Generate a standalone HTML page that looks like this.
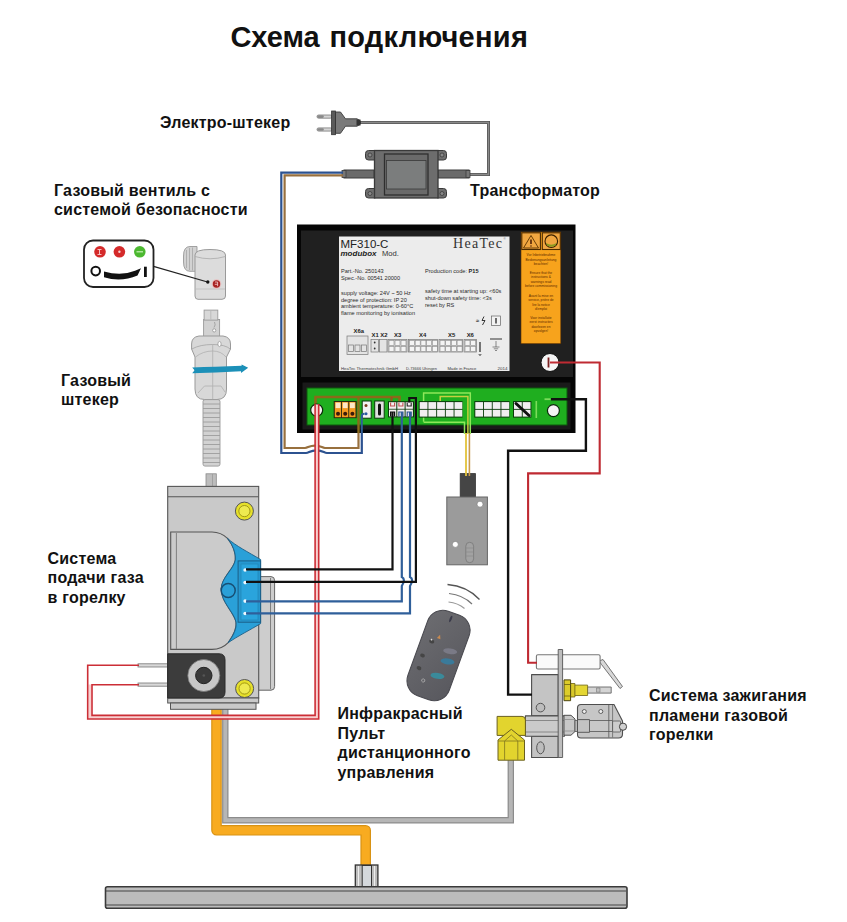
<!DOCTYPE html>
<html><head><meta charset="utf-8"><title>Схема подключения</title>
<style>
html,body{margin:0;padding:0;background:#fff;}
body{width:847px;height:922px;overflow:hidden;position:relative;font-family:"Liberation Sans",sans-serif;}
svg{position:absolute;left:0;top:0;display:block;}
.lbl{font-family:"Liberation Sans",sans-serif;font-weight:bold;font-size:16px;fill:#111;letter-spacing:0.22px;}
.sm{font-family:"Liberation Sans",sans-serif;fill:#333;}
</style></head>
<body>
<svg width="847" height="922" viewBox="0 0 847 922">
<rect x="0" y="0" width="847" height="922" fill="#fff"/>

<!-- ===== TEXT LABELS ===== -->
<text x="230.4" y="47" class="lbl" style="font-size:29px;letter-spacing:0px">Схема</text>
<text x="329.4" y="47" class="lbl" style="font-size:29px;letter-spacing:0.3px">подключения</text>
<text x="160" y="127.5" class="lbl">Электро-штекер</text>
<text x="470" y="196" class="lbl">Трансформатор</text>
<text x="54" y="196" class="lbl">Газовый вентиль с</text>
<text x="54" y="215" class="lbl">системой безопасности</text>
<text x="61" y="385.5" class="lbl">Газовый</text>
<text x="61" y="404.8" class="lbl">штекер</text>
<text x="47.5" y="563.5" class="lbl">Система</text>
<text x="47.5" y="583.2" class="lbl">подачи газа</text>
<text x="47.5" y="602.5" class="lbl">в горелку</text>
<text x="337.5" y="718.8" class="lbl">Инфракрасный</text>
<text x="337.5" y="738.6" class="lbl">Пульт</text>
<text x="337.5" y="758.4" class="lbl">дистанционного</text>
<text x="337.5" y="777.6" class="lbl">управления</text>
<text x="649" y="701" class="lbl">Система зажигания</text>
<text x="649" y="720.6" class="lbl">пламени газовой</text>
<text x="649" y="740" class="lbl">горелки</text>

<!-- ===== PIPES & BURNER ===== -->
<g id="pipes">
  <!-- gray pipe -->
  <path d="M225.3 705 V820.3 H510.8 V760" fill="none" stroke="#8c8c8c" stroke-width="6.4"/>
  <path d="M225.3 705 V820.3 H510.8 V760" fill="none" stroke="#b6b6b6" stroke-width="4"/>
  <!-- orange pipe -->
  <path d="M216.5 705 V830.3 H365.7 V866" fill="none" stroke="#d89214" stroke-width="10.6" stroke-linejoin="round"/>
  <path d="M216.5 705 V830.3 H365.7 V866" fill="none" stroke="#f8ab20" stroke-width="8.2" stroke-linejoin="round"/>
  <!-- coupling -->
  <rect x="355.3" y="865" width="22.6" height="22" fill="#bdbdbd" stroke="#333" stroke-width="1.3"/>
  <rect x="362.2" y="865.5" width="9.3" height="21" fill="#d4d8dc" stroke="#333" stroke-width="1"/>
  <line x1="358.5" y1="866" x2="358.5" y2="886.5" stroke="#eee" stroke-width="1"/>
  <line x1="374.5" y1="866" x2="374.5" y2="886.5" stroke="#eee" stroke-width="1"/>
  <!-- burner -->
  <rect x="105.5" y="886.8" width="521.5" height="21.5" rx="2" fill="#bcbcbc" stroke="#3a3a3a" stroke-width="1.6"/>
  <line x1="106" y1="891" x2="626" y2="891" stroke="#444" stroke-width="1.2"/>
  <line x1="106" y1="905" x2="626" y2="905" stroke="#444" stroke-width="1.2"/>
</g>

<!-- ===== PLUG & TRANSFORMER ===== -->
<g id="plug">
  <!-- cord from plug to transformer -->
  <path d="M358 122.5 H488.5 V174.5 H468" fill="none" stroke="#555" stroke-width="3"/>
  <path d="M358 122.5 H488.5 V174.5 H468" fill="none" stroke="#8a8a8a" stroke-width="1.4"/>
  <!-- pins -->
  <rect x="317" y="115" width="15" height="3.2" rx="1.6" fill="#d4d4d4" stroke="#7a7a7a" stroke-width="0.8"/>
  <rect x="317" y="127.9" width="15" height="3.2" rx="1.6" fill="#d4d4d4" stroke="#7a7a7a" stroke-width="0.8"/>
  <rect x="317.3" y="115.3" width="6.5" height="2.6" rx="1.3" fill="#8a8a8a"/>
  <rect x="317.3" y="128.2" width="6.5" height="2.6" rx="1.3" fill="#8a8a8a"/>
  <!-- body -->
  <path d="M335.5 112 H340.5 L345.5 118.8 H357 L360.5 121 V124 L357 126.2 H345.5 L340.5 133.3 H335.5 Z" fill="#7a7a7a" stroke="#3a3a3a" stroke-width="0.9"/>
  <rect x="331.6" y="111" width="3.9" height="23.7" fill="#5a5a5a" stroke="#333" stroke-width="0.8"/>
  <rect x="356.5" y="119.5" width="4" height="6" fill="#333"/>
</g>
<g id="transformer">
  <!-- left cord sleeve -->
  <rect x="344" y="170" width="30" height="8" fill="#6a6a6a" stroke="#3c3c3c" stroke-width="1"/>
  <rect x="342" y="170.5" width="4" height="7" fill="#777" stroke="#3c3c3c" stroke-width="0.8"/>
  <!-- right cord sleeve -->
  <rect x="438" y="170" width="31" height="8" fill="#6a6a6a" stroke="#3c3c3c" stroke-width="1"/>
  <rect x="466" y="170.5" width="4" height="7" fill="#777" stroke="#3c3c3c" stroke-width="0.8"/>
  <!-- tabs -->
  <rect x="365.5" y="150.5" width="12" height="9.5" rx="3" fill="#6e6e6e" stroke="#3a3a3a" stroke-width="1"/>
  <rect x="365.5" y="188.5" width="12" height="9.5" rx="3" fill="#6e6e6e" stroke="#3a3a3a" stroke-width="1"/>
  <rect x="435" y="150.5" width="11.5" height="9.5" rx="3" fill="#6e6e6e" stroke="#3a3a3a" stroke-width="1"/>
  <rect x="435" y="188.5" width="11.5" height="9.5" rx="3" fill="#6e6e6e" stroke="#3a3a3a" stroke-width="1"/>
  <circle cx="370" cy="155" r="2" fill="#888" stroke="#333" stroke-width="0.7"/>
  <circle cx="370" cy="193.5" r="2" fill="#888" stroke="#333" stroke-width="0.7"/>
  <circle cx="442" cy="155" r="2" fill="#888" stroke="#333" stroke-width="0.7"/>
  <circle cx="442" cy="193.5" r="2" fill="#888" stroke="#333" stroke-width="0.7"/>
  <!-- body -->
  <rect x="374.5" y="150.5" width="63.5" height="47.5" fill="#6d6d6d" stroke="#3a3a3a" stroke-width="1.3"/>
  <rect x="384.5" y="154" width="43.5" height="41" fill="#6a6a6a" stroke="#2e2e2e" stroke-width="1.3"/>
  <rect x="386.5" y="160.5" width="39.5" height="28.5" fill="#7b7d7d" stroke="#3a3a3a" stroke-width="0.8"/>
</g>

<!-- ===== CONTROL BOX ===== -->
<g id="box">
  <rect x="297" y="224.5" width="278.5" height="208.5" fill="#050505"/>
  <rect x="301" y="230.5" width="272" height="146.5" fill="#202020"/>
  <rect x="302.5" y="382.5" width="268" height="47" fill="#1a1a1a"/>
  <!-- label -->
  <rect x="339" y="236.5" width="170.5" height="134.5" fill="#ececec"/>
  <g class="sm" fill="#333">
    <text x="340.5" y="247.5" style="font-size:11.5px;fill:#222">MF310-C</text>
    <text x="340.5" y="256" style="font-size:8px;font-weight:bold;font-style:italic;fill:#222">modubox</text>
    <text x="382" y="256" style="font-size:7.6px;fill:#333">Mod.</text>
    <text x="453" y="247.5" style="font-family:'Liberation Serif',serif;font-size:14px;letter-spacing:1.3px;fill:#333">HeaTec</text>
    <text x="503.5" y="240" style="font-size:3px;fill:#555">®</text>
    <g style="font-size:5.6px;fill:#2a2a2a">
      <text x="341" y="272.5">Part.-No. 250143</text>
      <text x="341" y="279.8">Spec.-No. 00541 20000</text>
      <text x="425" y="272.5">Production code: <tspan style="font-weight:bold;fill:#222">P15</tspan></text>
      <text x="341" y="294.5">supply voltage: 24V ~ 50 Hz</text>
      <text x="341" y="301.5">degree of protection: IP 20</text>
      <text x="341" y="308.4">ambient temperature: 0-60°C</text>
      <text x="341" y="315.4">flame monitoring by ionisation</text>
      <text x="425" y="293">safety time at starting up: &lt;60s</text>
      <text x="425" y="300.3">shut-down safety time: &lt;3s</text>
      <text x="425" y="307.3">reset by RS</text>
    </g>
    <g style="font-size:5.9px;font-weight:bold;fill:#222">
      <text x="353.5" y="333.2">X6a</text>
      <text x="371.5" y="336.8">X1 X2</text>
      <text x="394" y="336.8">X3</text>
      <text x="419" y="336.8">X4</text>
      <text x="448" y="336.8">X5</text>
      <text x="466.7" y="336.8">X6</text>
    </g>
    <g style="font-size:4.4px;fill:#3a3a3a">
      <text x="341" y="369.8" textLength="57" lengthAdjust="spacingAndGlyphs">HeaTec Thermotechnik GmbH</text>
      <text x="406" y="369.8" textLength="31" lengthAdjust="spacingAndGlyphs">D-73666 Uhingen</text>
      <text x="447.4" y="369.8" textLength="29" lengthAdjust="spacingAndGlyphs">Made in France</text>
      <text x="497.6" y="369.8" textLength="10" lengthAdjust="spacingAndGlyphs">2014</text>
    </g>
    <!-- terminal sketch on label -->
    <g fill="#e4e4e4" stroke="#777" stroke-width="0.7">
      <rect x="347" y="336" width="21" height="18.5"/>
      <rect x="348.5" y="345" width="5" height="6.5"/><rect x="355" y="345" width="5" height="6.5"/><rect x="361.5" y="345" width="5" height="6.5"/>
      <rect x="371" y="339.5" width="7.5" height="12.5"/><rect x="379.5" y="339.5" width="7.5" height="12.5"/>
      <rect x="388" y="339.5" width="19" height="12.5"/>
      <rect x="408.5" y="339.5" width="29" height="12.5"/>
      <rect x="439" y="339.5" width="23.5" height="12.5"/>
      <rect x="464" y="339.5" width="12.5" height="12.5"/>
    </g>
    <g fill="#f4f4f4" stroke="#888" stroke-width="0.6">
      <rect x="389" y="340.5" width="5" height="5"/><rect x="395" y="340.5" width="5" height="5"/><rect x="401" y="340.5" width="5" height="5"/>
      <rect x="389" y="346.5" width="5" height="5"/><rect x="395" y="346.5" width="5" height="5"/><rect x="401" y="346.5" width="5" height="5"/>
      <rect x="409.5" y="340.5" width="5" height="5"/><rect x="415.2" y="340.5" width="5" height="5"/><rect x="420.9" y="340.5" width="5" height="5"/><rect x="426.6" y="340.5" width="5" height="5"/><rect x="432.3" y="340.5" width="5" height="5"/>
      <rect x="409.5" y="346.5" width="5" height="5"/><rect x="415.2" y="346.5" width="5" height="5"/><rect x="420.9" y="346.5" width="5" height="5"/><rect x="426.6" y="346.5" width="5" height="5"/><rect x="432.3" y="346.5" width="5" height="5"/>
      <rect x="440" y="340.5" width="5" height="5"/><rect x="445.7" y="340.5" width="5" height="5"/><rect x="451.4" y="340.5" width="5" height="5"/><rect x="457.1" y="340.5" width="5" height="5"/>
      <rect x="440" y="346.5" width="5" height="5"/><rect x="445.7" y="346.5" width="5" height="5"/><rect x="451.4" y="346.5" width="5" height="5"/><rect x="457.1" y="346.5" width="5" height="5"/>
      <rect x="465" y="340.5" width="5" height="5"/><rect x="470.7" y="340.5" width="5" height="5"/>
      <rect x="465" y="346.5" width="5" height="5"/><rect x="470.7" y="346.5" width="5" height="5"/>
    </g>
    <circle cx="374.7" cy="342.5" r="0.9" fill="#333"/><circle cx="374.7" cy="348.5" r="0.9" fill="#333"/>
    <line x1="480" y1="342" x2="480" y2="352" stroke="#333" stroke-width="1.3"/>
    <path d="M478.5 354.5 H481.5 M479.2 355.5 H480.8" stroke="#333" stroke-width="0.6"/>
    <line x1="490" y1="339" x2="502" y2="339" stroke="#333" stroke-width="1"/>
    <path d="M496 341 V347 M492.5 347 H499.5 M493.8 348.8 H498.2 M495 350.5 H497" stroke="#444" stroke-width="0.6" fill="none"/>
    <rect x="491.5" y="316" width="9" height="9.5" fill="#f2f2f2" stroke="#666" stroke-width="0.7"/>
    <line x1="496" y1="318" x2="496" y2="323.5" stroke="#222" stroke-width="1.3"/>
    <text x="476" y="323" style="font-size:6px;font-weight:bold;fill:#333">≈</text>
    <path d="M484 316.5 L482 320.5 H485 L482.5 325" stroke="#222" stroke-width="0.9" fill="none"/>
  </g>
  <!-- orange panel -->
  <rect x="521" y="232" width="39.8" height="111.7" fill="#f7a31c" stroke="#5a3000" stroke-width="0.6"/>
  <rect x="521.8" y="232.8" width="18.6" height="16.7" fill="#f0a640" stroke="#4a2a00" stroke-width="1.1"/>
  <rect x="542.3" y="232.8" width="18" height="16.7" fill="#f0a640" stroke="#4a2a00" stroke-width="1.1"/>
  <path d="M531 235.5 L538.5 248 H523.5 Z" fill="none" stroke="#5a3200" stroke-width="0.9"/>
  <line x1="531" y1="239.5" x2="531" y2="244" stroke="#3a1000" stroke-width="1.4"/>
  <circle cx="531" cy="246" r="0.7" fill="#3a1000"/>
  <circle cx="551.3" cy="241.2" r="6.3" fill="#f0a640" stroke="#3a2000" stroke-width="1.1"/>
  <path d="M546 243 Q551.3 246.5 556.6 243 L555.5 245.5 Q551.3 248 547 245.5 Z" fill="#8a9a20"/>
  <g style="font-family:'Liberation Sans',sans-serif;font-size:3.3px;fill:#5a2800" text-anchor="middle">
    <text x="541" y="256.3">Vor Inbetriebnahme</text><text x="541" y="260.7">Bedienungsanleitung</text><text x="541" y="265.2">beachten!</text>
    <text x="541" y="273.9">Ensure that the</text><text x="541" y="278.3">instructions &amp;</text><text x="541" y="282.8">warnings read</text><text x="541" y="287.3">before commissioning</text>
    <text x="541" y="296.6">Avant la mise en</text><text x="541" y="301">service, prière de</text><text x="541" y="305.5">lire la notice</text><text x="541" y="310">d'emploi</text>
    <text x="541" y="318.7">Voor installatie</text><text x="541" y="323.1">eerst instructies</text><text x="541" y="327.6">doorlezen en</text><text x="541" y="332">opvolgen!</text>
  </g>
  <!-- circle connector -->
  <circle cx="550" cy="362.5" r="9" fill="#f4f4f4" stroke="#111" stroke-width="1"/>
  <line x1="548.5" y1="357.5" x2="548.5" y2="367.5" stroke="#7a2020" stroke-width="1.8"/>
  <!-- green board -->
  <rect x="307" y="388" width="260" height="37" fill="#1fae1f" stroke="#0c5a0c" stroke-width="1"/>
  <!-- traces -->
  <path d="M315.5 404 V397 H399.5 V402" fill="none" stroke="#8a6a1a" stroke-width="2.6"/>
  <path d="M391.5 397 V402" fill="none" stroke="#a05020" stroke-width="2"/>
  <path d="M358.5 433 V397" fill="none" stroke="#8a6a1a" stroke-width="2.4"/>
  <path d="M423.6 421.8 V392.9 H470.3 V434" fill="none" stroke="#8ee85a" stroke-width="1.5"/>
  <path d="M423.6 422.2 H464.5 V434" fill="none" stroke="#8ee85a" stroke-width="1.5"/>
  <path d="M440.2 401 V396.6 H467.9 V434" fill="none" stroke="#c8d040" stroke-width="1.5"/>
  <!-- orange terminal -->
  <rect x="333.7" y="401" width="23" height="17.2" fill="#2a2a10" />
  <g fill="#f49a20">
    <rect x="334.8" y="402" width="6.3" height="15.2"/><rect x="342" y="402" width="6.3" height="15.2"/><rect x="349.2" y="402" width="6.3" height="15.2"/>
  </g>
  <g fill="#fde8c8">
    <rect x="335.6" y="402.6" width="4.8" height="5.5"/><rect x="342.8" y="402.6" width="4.8" height="5.5"/><rect x="350" y="402.6" width="4.8" height="5.5"/>
  </g>
  <g fill="#3a1a0a"><circle cx="338" cy="413.8" r="2"/><circle cx="345.2" cy="413.8" r="2"/><circle cx="352.4" cy="413.8" r="2"/></g>
  <!-- small 2-dot terminal -->
  <rect x="362.2" y="401" width="9" height="17.2" fill="#f2f2f2" stroke="#0a3a0a" stroke-width="1"/>
  <circle cx="366" cy="405.5" r="1.5" fill="#7a3a1a"/>
  <circle cx="366" cy="413.7" r="1.5" fill="#2a5aa0"/>
  <path d="M361.8 433 V416 Q361.8 413.7 364.5 413.7" fill="none" stroke="#2f5f9a" stroke-width="2"/>
  <!-- jumper -->
  <rect x="374.7" y="401" width="9.5" height="17.2" fill="#e0e0e0" stroke="#0a3a0a" stroke-width="1"/>
  <rect x="378" y="403.5" width="3" height="12" rx="1.5" fill="#111"/>
  <!-- X3 -->
  <rect x="388" y="401.2" width="26" height="16.2" fill="#0a3a0a"/>
  <g fill="#f4eef0">
    <rect x="389" y="402.2" width="7.3" height="6.6"/><rect x="397.3" y="402.2" width="7.3" height="6.6"/><rect x="405.6" y="402.2" width="7.3" height="6.6"/>
    <rect x="389" y="409.6" width="7.3" height="6.8"/><rect x="397.3" y="409.6" width="7.3" height="6.8"/><rect x="405.6" y="409.6" width="7.3" height="6.8"/>
  </g>
  <path d="M390.6 402.5 V406 H394.6 V402.5 M398.9 402.5 V406 H402.9 V402.5" fill="none" stroke="#c05050" stroke-width="1.1"/>
  <path d="M407.2 402.5 V406 H411.2 V402.5" fill="none" stroke="#222" stroke-width="1.1"/>
  <path d="M390.6 416.5 V412 H394.6 V416.5" fill="none" stroke="#111" stroke-width="1.2"/>
  <path d="M398.9 416.5 V412 H402.9 V416.5" fill="none" stroke="#2c5290" stroke-width="1.2"/>
  <path d="M407.2 416.5 V412 H411.2 V416.5" fill="none" stroke="#2c5290" stroke-width="1.2"/>
  <!-- X4 -->
  <rect x="418.7" y="401.1" width="43.8" height="16.5" fill="#0a3a0a"/>
  <g fill="#f1eef0">
    <rect x="419.7" y="402.1" width="7.8" height="6.8"/><rect x="428.4" y="402.1" width="7.8" height="6.8"/><rect x="437.1" y="402.1" width="7.8" height="6.8"/><rect x="445.8" y="402.1" width="7.8" height="6.8"/><rect x="454.5" y="402.1" width="7.8" height="6.8"/>
    <rect x="419.7" y="409.8" width="7.8" height="6.8"/><rect x="428.4" y="409.8" width="7.8" height="6.8"/><rect x="437.1" y="409.8" width="7.8" height="6.8"/><rect x="445.8" y="409.8" width="7.8" height="6.8"/><rect x="454.5" y="409.8" width="7.8" height="6.8"/>
  </g>
  <!-- X5 -->
  <rect x="474.3" y="401.1" width="35.3" height="16.5" fill="#0a3a0a"/>
  <g fill="#f1eef0">
    <rect x="475.3" y="402.1" width="7.8" height="6.8"/><rect x="484" y="402.1" width="7.8" height="6.8"/><rect x="492.7" y="402.1" width="7.8" height="6.8"/><rect x="501.4" y="402.1" width="7.8" height="6.8"/>
    <rect x="475.3" y="409.8" width="7.8" height="6.8"/><rect x="484" y="409.8" width="7.8" height="6.8"/><rect x="492.7" y="409.8" width="7.8" height="6.8"/><rect x="501.4" y="409.8" width="7.8" height="6.8"/>
  </g>
  <!-- X6 -->
  <rect x="513" y="401.1" width="18.4" height="16.5" fill="#0a3a0a"/>
  <g fill="#f1eef0">
    <rect x="514" y="402.1" width="7.8" height="6.8"/><rect x="522.7" y="402.1" width="7.8" height="6.8"/>
    <rect x="514" y="409.8" width="7.8" height="6.8"/><rect x="522.7" y="409.8" width="7.8" height="6.8"/>
  </g>
  <line x1="516" y1="403.5" x2="529" y2="415.5" stroke="#111" stroke-width="3" stroke-linecap="round"/>
  <rect x="535.5" y="401" width="1.6" height="17" fill="#7adc5a"/>
  <!-- right circle -->
  <circle cx="553.4" cy="410.6" r="6" fill="#f4f4f4" stroke="#0a2a0a" stroke-width="1.2"/>
  <rect x="544.5" y="398.3" width="6" height="1.8" fill="#7adc5a"/>
  <!-- left circle -->
  <circle cx="316.7" cy="410.1" r="6" fill="#f6f0f0" stroke="#0a2a0a" stroke-width="1.2"/>
</g>

<!-- ===== INDICATOR & SAFETY VALVE ===== -->

<g id="valvecap">
  <!-- knob on left -->
  <path d="M197 246.5 H190 Q183.5 246.5 183.5 256 V262 Q183.5 271.3 190 271.3 H197 Z" fill="#d2d2d2" stroke="#999" stroke-width="0.9"/>
  <path d="M186.5 250 V268 M189.5 248 V270 M192.5 247.5 V270.5" stroke="#a6a6a6" stroke-width="0.8"/>
  <!-- body -->
  <path d="M195 255 Q195 249.5 210 249.5 Q225.5 249.5 225.5 255 V296 Q225.5 299.3 222 299.3 H198 Q195 299.3 195 296 Z" fill="#dcdcdc" stroke="#9a9a9a" stroke-width="1"/>
  <path d="M195 256.5 Q210 261 225.5 256.5" fill="none" stroke="#aaa" stroke-width="0.8"/>
  <line x1="195.5" y1="289" x2="225" y2="289" stroke="#bbb" stroke-width="0.8"/>
  <circle cx="216.5" cy="284" r="4.8" fill="#e8c0c0"/>
  <circle cx="216.5" cy="284" r="3.7" fill="#a82424"/>
  <path d="M215 282 H217.6 V286.2 M214.8 284.3 H217.6" stroke="#f6d0d0" stroke-width="0.8" fill="none"/>
</g>
<g id="indicator">
  <rect x="84" y="240.5" width="69.5" height="46.5" rx="9" fill="#fff" stroke="#222" stroke-width="1.8"/>
  <circle cx="100" cy="251.8" r="5.8" fill="#d42a2a"/>
  <circle cx="119.4" cy="251.8" r="5.8" fill="#d42a2a"/>
  <circle cx="139.8" cy="251.8" r="5.8" fill="#4cb830"/>
  <path d="M97.5 249.5 H101.5 M99.5 249.5 V254.5 M97.5 254.5 H101.5" stroke="#f8d0d0" stroke-width="0.9" fill="none"/>
  <circle cx="119.4" cy="251.8" r="1.2" fill="#f8d0d0"/>
  <line x1="136.5" y1="251.8" x2="143" y2="251.8" stroke="#c8f0b8" stroke-width="1.2"/>
  <circle cx="95.7" cy="271.1" r="4.3" fill="none" stroke="#111" stroke-width="2"/>
  <path d="M104 271.5 Q121 276.5 135 270.8 L141 268.3 L137.5 275.5 Q121 282.5 104 277.3 Z" fill="#111"/>
  <rect x="144" y="266.7" width="2.8" height="10.3" fill="#111"/>
  <line x1="153.5" y1="266.3" x2="207.5" y2="282" stroke="#222" stroke-width="1.3"/>
  <circle cx="207.8" cy="282" r="1.7" fill="#111"/>
</g>
<g id="gasplug">
  <!-- top fitting -->
  <rect x="203.6" y="319.5" width="16" height="17" fill="#d2d2d2" stroke="#9a9a9a" stroke-width="0.9"/>
  <rect x="204.1" y="310.1" width="13.7" height="10" fill="#d8d8d8" stroke="#9a9a9a" stroke-width="0.9"/>
  <line x1="210.8" y1="311" x2="210.8" y2="319.5" stroke="#b0b0b0" stroke-width="0.7"/>
  <path d="M214.5 322 Q216 325 214 327.5" stroke="#999" stroke-width="0.8" fill="none"/>
  <circle cx="214.2" cy="330.4" r="1.6" fill="#fff" stroke="#888" stroke-width="0.7"/>
  <!-- hex nut -->
  <path d="M199 336 H223 Q230.5 337 230.5 344 V349 L226.5 357 V389 Q226.5 399.5 217 399.5 H204.5 Q195 399.5 195 389 V357 L191.6 349 V344 Q191.6 337 199 336 Z" fill="#d8d8d8" stroke="#999" stroke-width="1"/>
  <path d="M191.8 349 Q200 344.5 212.7 344.5 Q225 344.5 230.3 349" stroke="#a4a4a4" stroke-width="0.8" fill="none"/>
  <path d="M212.7 344.5 V399.5 M195.5 357 Q203 351 212.7 351 Q221 351 226 357 M198 393 L204.5 386 H221 L225 392" stroke="#b0b0b0" stroke-width="0.8" fill="none"/>
  <ellipse cx="219.5" cy="344" rx="1.6" ry="2.6" fill="#fff" stroke="#888" stroke-width="0.6"/>
  <!-- hose -->
  <rect x="203" y="399.6" width="17" height="66.5" rx="2" fill="#d2d2d2" stroke="#999" stroke-width="0.9"/>
  <path d="M203 404 H220 M203 408.5 H220 M203 413 H220 M203 417.5 H220 M203 422 H220 M203 426.5 H220 M203 431 H220 M203 435.5 H220 M203 440 H220 M203 444.5 H220 M203 449 H220 M203 453.5 H220 M203 458 H220 M203 462.5 H220" stroke="#9c9c9c" stroke-width="0.9"/>
  <!-- blue arrow -->
  <path d="M192.2 367.4 Q215 367 241.6 365.8 L241.6 364.4 L248.2 367.7 L241 373 L241 371.2 Q215 372.6 192.2 373.3 L194.6 370.3 Z" fill="#1c90b8"/>
</g>

<!-- ===== GAS VALVE ===== -->
<g id="valve">
  <!-- pins -->
  <rect x="138" y="663.8" width="30" height="3.2" fill="#d8d8d8" stroke="#777" stroke-width="0.8"/>
  <rect x="138" y="683" width="30" height="3.2" fill="#d8d8d8" stroke="#777" stroke-width="0.8"/>
  <!-- stem -->
  <rect x="206" y="473.8" width="10.3" height="13" fill="#bdbdbd" stroke="#8a8a8a" stroke-width="0.8"/>
  <line x1="212.5" y1="474" x2="212.5" y2="486" stroke="#999" stroke-width="0.8"/>
  <!-- side plate -->
  <path d="M257 576.6 H271 Q274.6 576.6 274.6 580.5 V686.5 Q274.6 690.2 271 690.2 H257 Z" fill="#cdcdcd" stroke="#666" stroke-width="1"/>
  <line x1="270.5" y1="578" x2="270.5" y2="689" stroke="#777" stroke-width="0.9"/>
  <!-- body -->
  <rect x="167.7" y="486.4" width="91" height="211.6" fill="#c9c9c9" stroke="#555" stroke-width="1.1"/>
  <line x1="168" y1="496.8" x2="258.5" y2="496.8" stroke="#555" stroke-width="1.1"/>
  <!-- base -->
  <rect x="167.7" y="698" width="91" height="5" fill="#c9c9c9" stroke="#555" stroke-width="1"/>
  <rect x="170.5" y="703" width="85.5" height="6.3" fill="#c9c9c9" stroke="#555" stroke-width="1"/>
  <!-- inner panel -->
  <path d="M170.7 532 H212 C219 532 224 535 227.5 538.4 C232 544 236 552 235.3 560 C234 569 221 578 221.2 589 C221 602 234 612 236 622 C237 629 233 636 228.2 642.6 C224 647 218 649.4 212 649.4 H170.7 Z" fill="#cbcbcb" stroke="#555" stroke-width="1.1"/>
  <line x1="176.4" y1="533" x2="176.4" y2="649" stroke="#777" stroke-width="0.9"/>
  <!-- blue part -->
  <path d="M227.5 538.4 C236 546 248 552 260.6 559.5 V623.6 C250 630 238 636 228.2 642.6 C233 636 237 629 236 622 C234 612 221 602 221.2 589 C221 578 234 569 235.3 560 C236 552 232 544 227.5 538.4 Z" fill="#2aa0d8" stroke="#1b5f88" stroke-width="0.9"/>
  <circle cx="228.2" cy="590.5" r="7" fill="#2aa0d8" stroke="#184f74" stroke-width="1.5"/>
  <rect x="238.1" y="560.9" width="22.5" height="61.3" fill="#2698d0" stroke="#1b5f88" stroke-width="1"/>
  <rect x="241" y="564" width="17" height="56" fill="#2aa4dc" stroke="#2080b0" stroke-width="0.6"/>
  <g fill="#eef8ff"><circle cx="245.1" cy="570" r="1.8"/><circle cx="245.1" cy="582.6" r="1.8"/><circle cx="245.1" cy="601.1" r="1.8"/><circle cx="245.1" cy="613.5" r="1.8"/></g>
  <!-- coil block -->
  <path d="M167.7 653.8 H219 Q225 653.8 225 660 V692 Q225 698 219 698 H167.7 Z" fill="#3c3c3c" stroke="#2a2a2a" stroke-width="1"/>
  <circle cx="203.8" cy="675.5" r="16" fill="#c8c8c8" stroke="#777" stroke-width="0.8"/>
  <circle cx="203.8" cy="675.5" r="8.2" fill="#3a3a3a" stroke="#222" stroke-width="1"/>
  <circle cx="203.8" cy="675.5" r="1.3" fill="#555"/>
  <!-- screws -->
  <circle cx="244.4" cy="511.1" r="9" fill="#e6e02a" stroke="#555" stroke-width="1"/>
  <circle cx="244.4" cy="511.1" r="5.6" fill="#eeea50" stroke="#9a9010" stroke-width="0.9"/>
  <circle cx="244.6" cy="688.5" r="9" fill="#e6e02a" stroke="#555" stroke-width="1"/>
  <circle cx="244.6" cy="688.5" r="5.6" fill="#eeea50" stroke="#9a9010" stroke-width="0.9"/>
</g>

<!-- ===== CONNECTOR (below box) ===== -->
<g id="connector">
  <rect x="460.2" y="473.6" width="15.2" height="23.6" fill="#454545" stroke="#333" stroke-width="0.8"/>
  <rect x="446.8" y="497" width="40.6" height="67.8" fill="#9b9b9b" stroke="#666" stroke-width="1"/>
  <circle cx="480" cy="504.2" r="3" fill="#fff" stroke="#777" stroke-width="0.6"/>
  <circle cx="455.3" cy="544.4" r="3" fill="#fff" stroke="#777" stroke-width="0.6"/>
  <rect x="465.8" y="542.3" width="7.8" height="20.4" rx="3.9" fill="#a2a2a2" stroke="#777" stroke-width="0.8"/>
  <path d="M466 548 H473.4 M466 552 H473.4 M466 556 H473.4" stroke="#888" stroke-width="0.6"/>
</g>

<!-- ===== REMOTE ===== -->
<g id="remote">
  <path d="M447.5 584.5 Q467 586 479.5 599.5" fill="none" stroke="#555" stroke-width="1.3"/>
  <path d="M449 593.5 Q463 595 472 604" fill="none" stroke="#777" stroke-width="1.2"/>
  <path d="M448.5 602 Q458 603 464.5 608.5" fill="none" stroke="#999" stroke-width="1.1"/>
  <g transform="translate(438.5 655.5) rotate(20)">
    <defs><linearGradient id="rg" x1="0" y1="0" x2="1" y2="1"><stop offset="0" stop-color="#6c6c70"/><stop offset="1" stop-color="#58585e"/></linearGradient></defs>
    <rect x="-22" y="-45" width="44" height="90" rx="16" fill="url(#rg)" stroke="#4a4a50" stroke-width="1"/>
    <ellipse cx="-1" cy="-38.5" rx="1.1" ry="3.5" fill="#3a3a4a"/>
    <path d="M-7.5 -16 L-5.6 -20 L-3.8 -16 Z" fill="#c88a50"/>
    <ellipse cx="-11.2" cy="-11" rx="2.6" ry="2" fill="#444"/>
    <circle cx="-12" cy="-12.5" r="0.9" fill="#ddd"/>
    <ellipse cx="9.5" cy="-8" rx="7" ry="2.8" fill="#7a7a86" transform="rotate(-12 9.5 -8)"/>
    <ellipse cx="10.5" cy="2.5" rx="7" ry="3" fill="#3a7a9a" transform="rotate(-12 10.5 2.5)"/>
    <ellipse cx="6" cy="19.5" rx="7" ry="3" fill="#3a8a9a" transform="rotate(-12 6 19.5)"/>
    <ellipse cx="-15" cy="5.5" rx="2.4" ry="1.9" fill="#454545"/>
    <ellipse cx="-14" cy="18.5" rx="2.4" ry="1.9" fill="#454545"/>
    <circle cx="-5.8" cy="28.7" r="1.6" fill="none" stroke="#aaa" stroke-width="0.8"/>
  </g>
</g>

<!-- ===== IGNITION ===== -->
<g id="ignition" stroke-linejoin="round">
  <!-- electrode wire tip -->
  <path d="M599 661 L603 659.5 L622.5 686.5 L620 688.5 L601.5 664.5 Z" fill="#d8d8d8" stroke="#666" stroke-width="0.9"/>
  <!-- electrode -->
  <rect x="536.4" y="654.8" width="63.7" height="14.2" rx="1.5" fill="#fafafa" stroke="#777" stroke-width="1.1"/>
  <!-- upper gray block -->
  <rect x="531.6" y="674.6" width="26.6" height="41.3" fill="#c4c4c4" stroke="#4e4e4e" stroke-width="1.1"/>
  <circle cx="540.5" cy="707.6" r="4.3" fill="#bdbdbd" stroke="#555" stroke-width="1"/>
  <!-- lower block -->
  <rect x="531.6" y="736.3" width="26.6" height="21.2" fill="#c4c4c4" stroke="#4e4e4e" stroke-width="1.1"/>
  <ellipse cx="540.5" cy="747.8" rx="3.8" ry="6" fill="#bdbdbd" stroke="#555" stroke-width="1"/>
  <!-- thermocouple -->
  <rect x="587.5" y="687" width="23.7" height="6.1" fill="#d4d4d4" stroke="#666" stroke-width="0.9"/>
  <rect x="596.5" y="688" width="3.5" height="4.2" fill="#c0c0c0" stroke="#777" stroke-width="0.6"/>
  <rect x="574.4" y="685.1" width="13.2" height="10.4" fill="#e4d632" stroke="#7a7020" stroke-width="0.9"/>
  <rect x="570.4" y="683.5" width="4.5" height="13.5" fill="#d8c82a" stroke="#6a6010" stroke-width="0.8"/>
  <rect x="564" y="679.9" width="6.6" height="20.8" fill="#dccc2a" stroke="#4a4410" stroke-width="1"/>
  <path d="M564 684.5 H570.6 M564 696 H570.6" stroke="#6a6010" stroke-width="0.8"/>
  <!-- main tube -->
  <rect x="525.4" y="715.9" width="39" height="20.4" fill="#cacaca" stroke="#4e4e4e" stroke-width="1.1"/>
  <line x1="526" y1="720.5" x2="564" y2="720.5" stroke="#777" stroke-width="0.8"/>
  <line x1="526" y1="732" x2="564" y2="732" stroke="#777" stroke-width="0.8"/>
  <!-- connection nut -->
  <path d="M564 715.3 H571 L575 719 V731.5 L571 735.2 H564 Z" fill="#c8c8c8" stroke="#4e4e4e" stroke-width="1"/>
  <path d="M564 719.5 H574 M564 731 H574" stroke="#888" stroke-width="0.7"/>
  <rect x="575" y="720.5" width="3" height="11" fill="#c0c0c0" stroke="#555" stroke-width="0.8"/>
  <!-- pilot burner -->
  <path d="M577.5 708 Q577.5 704.5 581 704.5 H614 L622.5 721 V734 Q622.5 738 618.5 738 H581 Q577.5 738 577.5 734.5 Z" fill="#c6c6c6" stroke="#4e4e4e" stroke-width="1.1"/>
  <circle cx="584.3" cy="711.5" r="2" fill="#eee" stroke="#444" stroke-width="0.8"/>
  <circle cx="600.8" cy="711.5" r="2" fill="#eee" stroke="#444" stroke-width="0.8"/>
  <rect x="577.5" y="719.6" width="12" height="12.7" fill="#c2c2c2" stroke="#4e4e4e" stroke-width="0.9"/>
  <rect x="589.5" y="720.5" width="23" height="11" fill="#c8c8c8" stroke="#555" stroke-width="0.8"/>
  <line x1="608.8" y1="705" x2="608.8" y2="737.5" stroke="#555" stroke-width="0.8"/>
  <line x1="612.6" y1="705" x2="612.6" y2="737.5" stroke="#666" stroke-width="0.8"/>
  <rect x="612.6" y="721" width="8" height="11" rx="1" fill="#cdcdcd" stroke="#555" stroke-width="0.8"/>
  <circle cx="623" cy="726.7" r="3.6" fill="#d0d0d0" stroke="#444" stroke-width="1"/>
  <!-- vertical bracket -->
  <rect x="558.2" y="649.5" width="4.4" height="108" fill="#bdbdbd" stroke="#555" stroke-width="0.9"/>
  <!-- yellow elbow -->
  <path d="M497.1 716.4 H522 Q525.4 716.4 525.4 720 V735.4 H497.1 Z" fill="#e2d42e" stroke="#6a6020" stroke-width="1"/>
  <path d="M498 740 L511.3 729.3 L524.5 740 V760.2 H498 Z" fill="#e2d42e" stroke="#6a6020" stroke-width="1"/>
  <path d="M498 741 H524.5 M504.6 741 V760 M517.8 741 V760 M504.6 741 L511.3 735 L517.8 741" stroke="#8a8020" stroke-width="0.9" fill="none"/>
</g>

<!-- ===== WIRES ===== -->
<g id="wires" fill="none" stroke-linejoin="miter">
  <!-- transformer -> box: blue & brown -->
  <path d="M343 172.7 H281.3 V453 H306 C309 453 310 450.3 316.5 450.3 C323 450.3 324 453 327 453 H361.8 V433" stroke="#2c5290" stroke-width="2.2"/>
  <path d="M343 175.4 H284.6 V448 H305 C308 448 309 445.6 315 445.6 C321 445.6 322 448 325 448 H358.5 V433" stroke="#98703e" stroke-width="2.2"/>
  <!-- red flat cable to valve coil -->
  <path d="M316.9 404.5 V717.3 H90 V684.5" stroke="#f8d0d0" stroke-width="3"/>
  <path d="M315.1 404 V715.4 H92 V684.7 H139" stroke="#cc2e36" stroke-width="1.6"/>
  <path d="M318.7 404 V719 H87.7 V665.3 H139" stroke="#cc2e36" stroke-width="1.6"/>
  <!-- X3 wires to valve connector -->
  <path d="M392.5 412 V569.4 H246" stroke="#111" stroke-width="2.2"/>
  <path d="M401.8 412 V577 Q406 579 401.8 586 V601.3 H246" stroke="#2f5f9a" stroke-width="2.2"/>
  <path d="M410 412 V577 Q414.2 579 410 586 V613.3 H246" stroke="#2f5f9a" stroke-width="2.2"/>
  <path d="M409.3 402.5 V398 H415.9 V581.8 H246" stroke="#111" stroke-width="2.2"/>
  <!-- yellow wires to connector -->
  <path d="M466 433 V476" stroke="#e2c23a" stroke-width="1.8"/>
  <path d="M469.4 433 V476" stroke="#c89a50" stroke-width="1.6"/>
  <!-- right black & red -->
  <path d="M551 399.3 H585.9 V450.7 H508.1 V694.6 H532" stroke="#111" stroke-width="2.4"/>
  <path d="M550 362.5 H599.7 V473.4 H528.1 V662.8 H537" stroke="#bf2a32" stroke-width="2.1"/>
</g>

</svg>
</body></html>
